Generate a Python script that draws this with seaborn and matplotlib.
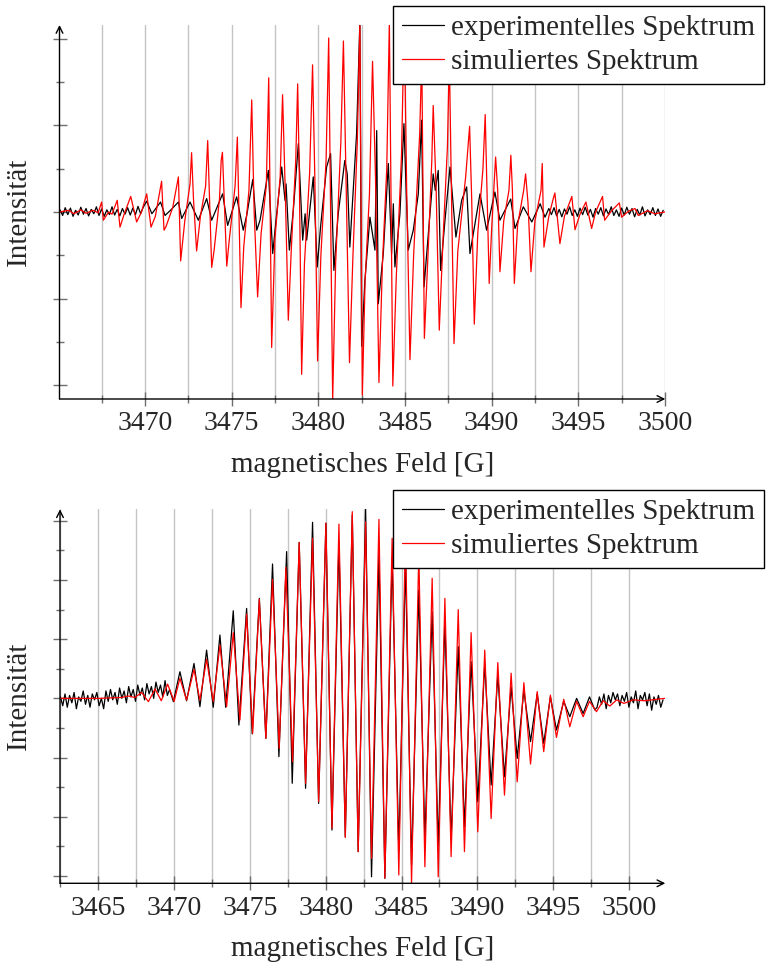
import numpy as np
import pandas as pd
import matplotlib
matplotlib.use("Agg")
import matplotlib.pyplot as plt
from matplotlib.lines import Line2D
import seaborn as sns

labels = ["experimentelles Spektrum", "simuliertes Spektrum"]

# ---------- top panel ----------
top_exp_noise_left_field = [3465.10, 3465.25, 3465.40, 3465.55, 3465.70, 3465.85, 3466.00, 3466.15, 3466.30,
                            3466.45, 3466.60, 3466.75, 3466.90, 3467.05, 3467.20, 3467.35, 3467.50, 3467.65,
                            3467.80, 3467.95, 3468.10, 3468.25, 3468.40, 3468.55, 3468.70, 3468.85, 3469.00,
                            3469.15, 3469.30, 3469.45, 3469.60, 3469.75, 3469.90]
top_exp_noise_left_val = [0.05, -0.08, 0.10, -0.06, 0.09, -0.10, 0.04, -0.07, 0.11, -0.05, 0.08, -0.09, 0.06,
                          -0.04, 0.12, -0.08, 0.07, -0.10, 0.05, -0.06, 0.12, -0.07, 0.06, -0.09, 0.08, -0.05,
                          0.10, -0.07, 0.09, -0.06, 0.13, -0.04, 0.11]

top_exp_lines = [(3470.10, 0.25), (3470.40, -0.04), (3470.90, 0.23), (3471.16, -0.08), (3471.50, 0.05),
                 (3471.93, 0.23), (3472.12, -0.15), (3472.60, 0.23), (3473.08, -0.19), (3473.56, 0.31),
                 (3473.85, -0.19), (3474.48, 0.42), (3474.77, -0.31), (3475.29, 0.35), (3475.67, -0.42),
                 (3475.87, -0.08), (3476.22, 0.75), (3476.45, -0.42), (3476.64, -0.19), (3477.12, 0.96),
                 (3477.37, -0.96), (3477.56, -0.19), (3477.89, 1.04), (3478.08, 0.27), (3478.14, 0.65),
                 (3478.33, -0.88), (3478.56, 0.04), (3478.85, 1.58), (3479.10, -0.65), (3479.24, -0.04),
                 (3479.33, -0.65), (3479.71, 0.81), (3479.94, -1.27), (3480.13, -0.35), (3480.48, 1.04),
                 (3480.71, 1.35), (3480.90, -1.35), (3481.15, -0.04), (3481.53, 1.19), (3481.67, 0.88),
                 (3481.82, -0.81), (3482.21, 1.81), (3482.40, 4.40), (3482.50, -3.10), (3482.69, -1.58),
                 (3482.98, -0.12), (3483.27, -0.88), (3483.37, 1.88), (3483.46, -2.12), (3483.75, -0.96),
                 (3484.04, 1.12), (3484.23, -0.96), (3484.33, 0.19), (3484.42, -1.27), (3484.71, -0.04),
                 (3484.94, 2.04), (3485.19, -0.88), (3485.48, -0.42), (3485.77, 0.42), (3485.96, 2.12),
                 (3486.10, -1.73), (3486.35, -0.50), (3486.63, 0.88), (3486.75, 0.50), (3486.92, 0.96),
                 (3487.06, -1.35), (3487.31, -0.19), (3487.60, 1.04), (3487.94, -0.58), (3488.27, 0.27),
                 (3488.56, 0.58), (3488.75, -0.96), (3489.33, 0.42), (3489.71, -0.42), (3490.19, 0.46),
                 (3490.48, -0.19), (3491.10, 0.30), (3491.35, -0.38), (3491.83, 0.12), (3492.32, -0.23),
                 (3492.80, 0.19), (3493.08, -0.12)]

top_exp_noise_right_field = [3493.30, 3493.45, 3493.60, 3493.75, 3493.90, 3494.05, 3494.20, 3494.35, 3494.50,
                             3494.65, 3494.80, 3494.95, 3495.10, 3495.25, 3495.40, 3495.55, 3495.70, 3495.85,
                             3496.00, 3496.15, 3496.30, 3496.45, 3496.60, 3496.75, 3496.90, 3497.05, 3497.20,
                             3497.35, 3497.50, 3497.65, 3497.80, 3497.95, 3498.10, 3498.25, 3498.40, 3498.55,
                             3498.70, 3498.85, 3499.00, 3499.15, 3499.30, 3499.45, 3499.60, 3499.75, 3499.90]
top_exp_noise_right_val = [0.08, -0.06, 0.10, -0.09, 0.06, -0.11, 0.07, -0.05, 0.12, -0.08, 0.05, -0.10, 0.09,
                           -0.06, 0.11, -0.07, 0.06, -0.12, 0.08, -0.05, 0.10, -0.09, 0.07, -0.06, 0.12, -0.08,
                           0.05, -0.10, 0.09, -0.07, 0.11, -0.05, 0.08, -0.11, 0.06, -0.07, 0.12, -0.09, 0.05,
                           -0.06, 0.10, -0.08, 0.07, -0.10, 0.04]

top_sim_lines = [(3465.07, 0.00), (3465.60, 0.04), (3465.90, -0.04), (3466.30, 0.05), (3466.60, -0.03),
                 (3467.00, 0.04), (3467.30, -0.02), (3467.50, 0.23), (3467.60, -0.19), (3467.90, 0.00),
                 (3468.10, -0.05), (3468.40, 0.27), (3468.56, -0.35), (3468.80, -0.05), (3469.18, 0.36),
                 (3469.52, -0.23), (3469.80, 0.00), (3470.10, 0.42), (3470.35, -0.35), (3470.60, -0.10),
                 (3470.96, 0.71), (3471.10, -0.42), (3471.20, -0.35), (3471.60, 0.10), (3471.93, 0.81),
                 (3472.06, -1.13), (3472.30, -0.20), (3472.60, 0.65), (3472.69, 1.37), (3472.80, 0.30),
                 (3472.98, -0.90), (3473.20, -0.10), (3473.50, 0.60), (3473.62, 1.65), (3473.85, -1.28),
                 (3474.00, -0.85), (3474.30, 0.30), (3474.40, 1.20), (3474.47, 1.38), (3474.72, -1.25),
                 (3474.85, -0.70), (3475.20, 0.60), (3475.33, 1.73), (3475.54, -2.21), (3475.70, -0.80),
                 (3476.00, 0.50), (3476.16, 2.59), (3476.30, 0.00), (3476.50, -1.96), (3476.70, -0.50),
                 (3477.00, 0.60), (3477.14, 3.10), (3477.31, -3.13), (3477.50, -0.60), (3477.80, 0.80),
                 (3477.94, 2.71), (3478.10, 0.40), (3478.27, -2.50), (3478.45, -0.80), (3478.70, 1.20),
                 (3478.81, 2.96), (3478.90, 1.00), (3479.04, -3.75), (3479.20, -1.20), (3479.50, 0.90),
                 (3479.67, 3.40), (3479.80, 0.80), (3479.96, -3.44), (3480.15, -1.00), (3480.45, 1.20),
                 (3480.60, 4.02), (3480.83, -4.35), (3481.00, -1.20), (3481.30, 1.60), (3481.45, 3.95),
                 (3481.60, 0.80), (3481.80, -3.48), (3482.00, -1.00), (3482.25, 1.60), (3482.40, 4.40),
                 (3482.54, -4.23), (3482.70, -1.60), (3482.95, 0.40), (3483.13, 3.48), (3483.30, 0.80),
                 (3483.50, -3.94), (3483.70, -1.20), (3483.95, 1.00), (3484.10, 4.40), (3484.30, -4.02),
                 (3484.50, -1.50), (3484.80, 1.30), (3484.96, 4.40), (3485.10, 0.50), (3485.29, -3.41),
                 (3485.50, -1.00), (3485.85, 1.80), (3485.97, 3.60), (3486.12, -2.92), (3486.35, -0.80),
                 (3486.55, 1.20), (3486.63, 2.46), (3486.80, 0.50), (3486.98, -2.73), (3487.20, -0.60),
                 (3487.45, 1.50), (3487.56, 3.60), (3487.70, 0.00), (3487.83, -3.04), (3488.05, -0.90),
                 (3488.50, 0.80), (3488.73, 1.98), (3488.85, 0.30), (3489.00, -2.59), (3489.20, -0.50),
                 (3489.50, 1.00), (3489.63, 2.25), (3489.75, 0.20), (3489.86, -1.65), (3490.00, -0.40),
                 (3490.15, 0.70), (3490.23, 1.27), (3490.35, 0.50), (3490.48, -1.38), (3490.70, -0.20),
                 (3491.00, 0.50), (3491.11, 1.31), (3491.20, 0.50), (3491.31, -1.65), (3491.50, -0.30),
                 (3491.85, 0.50), (3491.96, 0.88), (3492.10, 0.20), (3492.27, -1.38), (3492.50, -0.20),
                 (3492.85, 0.50), (3492.92, 1.12), (3493.02, -0.81), (3493.30, -0.10), (3493.55, 0.30),
                 (3493.65, 0.44), (3493.94, -0.73), (3494.20, -0.10), (3494.63, 0.36), (3494.81, -0.41),
                 (3495.10, -0.05), (3495.44, 0.23), (3495.77, -0.38), (3496.00, 0.00), (3496.40, 0.36),
                 (3496.52, -0.19), (3496.90, 0.02), (3497.37, 0.21), (3497.50, -0.12), (3497.90, 0.02),
                 (3498.27, 0.08), (3498.46, -0.08), (3499.00, 0.03), (3499.40, -0.04), (3500.00, 0.00)]

# ---------- bottom panel ----------
bot_exp_noise_left_field = [3462.50, 3462.65, 3462.80, 3462.95, 3463.10, 3463.25, 3463.40, 3463.55, 3463.70,
                            3463.85, 3464.00, 3464.15, 3464.30, 3464.45, 3464.60, 3464.75, 3464.90, 3465.05,
                            3465.20, 3465.35, 3465.50, 3465.65, 3465.80, 3465.95, 3466.10, 3466.25, 3466.40,
                            3466.55, 3466.70, 3466.85, 3467.00, 3467.15, 3467.30, 3467.45, 3467.60, 3467.75,
                            3467.90, 3468.05, 3468.20, 3468.35, 3468.50, 3468.65, 3468.80, 3468.95, 3469.10,
                            3469.25, 3469.40, 3469.55, 3469.70]
bot_exp_noise_left_val = [0.05, -0.25, 0.15, -0.30, 0.10, -0.15, 0.20, -0.35, 0.05, -0.10, 0.25, -0.20, 0.10,
                          -0.30, 0.15, -0.05, 0.20, -0.25, 0.00, -0.35, 0.25, -0.10, 0.30, -0.05, 0.20, -0.20,
                          0.35, 0.00, 0.25, -0.15, 0.40, 0.05, 0.30, -0.10, 0.45, 0.10, 0.35, -0.05, 0.50,
                          0.15, 0.40, 0.00, 0.55, 0.20, 0.45, 0.05, 0.60, 0.10, 0.30]

bot_exp_lines = [(3469.95, -0.11), (3470.38, 0.90), (3470.82, -0.08), (3471.31, 1.18), (3471.70, -0.28),
                 (3472.14, 1.63), (3472.58, -0.30), (3473.02, 2.14), (3473.40, -0.30), (3473.90, 2.96),
                 (3474.27, -0.90), (3474.78, 3.04), (3475.15, -1.20), (3475.62, 3.38), (3476.05, -1.35),
                 (3476.49, 4.54), (3476.91, -1.97), (3477.42, 4.96), (3477.79, -2.87), (3478.25, 5.27),
                 (3478.67, -3.04), (3479.13, 5.95), (3479.53, -3.55), (3480.01, 5.92), (3480.41, -4.45),
                 (3480.87, 5.30), (3481.29, -4.68), (3481.75, 6.20), (3482.14, -5.18), (3482.63, 6.42),
                 (3483.02, -6.03), (3483.51, 4.90), (3483.90, -6.08), (3484.38, 4.79), (3484.82, -5.15),
                 (3485.26, 4.60), (3485.66, -5.63), (3486.14, 3.66), (3486.54, -4.79), (3487.02, 2.93),
                 (3487.42, -5.01), (3487.86, 2.60), (3488.27, -4.79), (3488.74, 1.75), (3489.15, -4.34),
                 (3489.59, 1.24), (3490.03, -3.49), (3490.49, 1.18), (3490.91, -2.93), (3491.35, 0.79),
                 (3491.79, -2.65), (3492.23, 0.39), (3492.63, -2.03), (3493.07, 0.28), (3493.51, -1.46),
                 (3493.95, 0.15), (3494.38, -1.52), (3494.82, 0.05), (3495.22, -1.07), (3495.70, -0.10),
                 (3496.10, -0.62), (3496.55, 0.00), (3496.98, -0.51), (3497.40, 0.05), (3497.75, -0.39)]

bot_exp_noise_right_field = [3497.90, 3498.05, 3498.20, 3498.35, 3498.50, 3498.65, 3498.80, 3498.95, 3499.10,
                             3499.25, 3499.40, 3499.55, 3499.70, 3499.85, 3500.00, 3500.15, 3500.30, 3500.45,
                             3500.60, 3500.75, 3500.90, 3501.05, 3501.20, 3501.35, 3501.50, 3501.65, 3501.80,
                             3501.95, 3502.10, 3502.25]
bot_exp_noise_right_val = [-0.30, 0.05, -0.20, 0.15, -0.35, 0.10, -0.15, 0.20, -0.05, 0.15, -0.25, 0.10, -0.10,
                           0.20, -0.30, 0.05, -0.15, 0.25, -0.35, 0.10, -0.05, 0.20, -0.25, 0.15, -0.40, 0.05,
                           -0.20, 0.10, -0.30, -0.05]

bot_sim_lines = [(3462.47, 0.00), (3465.00, 0.00), (3466.50, 0.03), (3467.00, 0.08), (3467.40, 0.03),
                 (3467.86, 0.20), (3468.30, -0.11), (3468.74, 0.32), (3469.15, -0.08), (3469.57, 0.48),
                 (3470.00, -0.10), (3470.38, 0.68), (3470.82, -0.06), (3471.31, 0.98), (3471.70, -0.06),
                 (3472.14, 1.32), (3472.58, -0.11), (3473.02, 1.80), (3473.46, -0.28), (3473.90, 2.22),
                 (3474.34, -0.73), (3474.78, 2.85), (3475.18, -1.18), (3475.62, 3.35), (3476.05, -1.35),
                 (3476.49, 4.02), (3476.93, -1.69), (3477.37, 4.43), (3477.81, -2.14), (3478.25, 5.27),
                 (3478.67, -2.87), (3479.13, 5.41), (3479.53, -3.49), (3480.01, 5.92), (3480.41, -4.39),
                 (3480.87, 5.89), (3481.29, -4.70), (3481.75, 6.31), (3482.14, -5.18), (3482.63, 5.97),
                 (3483.02, -5.41), (3483.51, 6.05), (3483.90, -6.08), (3484.38, 5.41), (3484.82, -5.97),
                 (3485.26, 5.60), (3485.66, -6.25), (3486.14, 4.90), (3486.54, -5.69), (3487.02, 4.06),
                 (3487.42, -6.03), (3487.86, 3.38), (3488.27, -5.35), (3488.74, 3.00), (3489.15, -5.18),
                 (3489.59, 2.22), (3490.03, -4.51), (3490.49, 1.63), (3490.91, -4.06), (3491.35, 1.21),
                 (3491.79, -3.27), (3492.23, 0.85), (3492.63, -2.82), (3493.07, 0.53), (3493.51, -2.22),
                 (3493.95, 0.23), (3494.38, -1.80), (3494.82, 0.11), (3495.22, -1.32), (3495.70, -0.03),
                 (3496.10, -0.96), (3496.55, -0.10), (3496.98, -0.62), (3497.40, -0.10), (3497.86, -0.45),
                 (3498.30, -0.08), (3498.74, -0.26), (3499.20, -0.05), (3499.66, -0.17), (3500.30, -0.05),
                 (3501.00, -0.08), (3502.37, 0.00)]


def spectrum_frame(exp_field, exp_val, sim_lines):
    sim_field, sim_val = zip(*sim_lines)
    exp = pd.DataFrame({"field": exp_field, "intensity": exp_val, "series": labels[0]})
    sim = pd.DataFrame({"field": sim_field, "intensity": sim_val, "series": labels[1]})
    return pd.concat([exp, sim], ignore_index=True)


ef, ev = zip(*top_exp_lines)
top_df = spectrum_frame(top_exp_noise_left_field + list(ef) + top_exp_noise_right_field,
                        top_exp_noise_left_val + list(ev) + top_exp_noise_right_val, top_sim_lines)
ef, ev = zip(*bot_exp_lines)
bot_df = spectrum_frame(bot_exp_noise_left_field + list(ef) + bot_exp_noise_right_field,
                        bot_exp_noise_left_val + list(ev) + bot_exp_noise_right_val, bot_sim_lines)

sns.set_theme(style="white")
plt.rcParams['font.family'] = ['Liberation Serif', 'DejaVu Serif']

W, H = 771, 964
fig = plt.figure(figsize=(W / 100, H / 100), dpi=100)
ax_top = fig.add_axes([59.5 / W, 1 - 399 / H, (665.3 - 59.5) / W, (399 - 25) / H])
ax_bot = fig.add_axes([60 / W, 1 - 883.3 / H, (665.3 - 60) / W, (883.3 - 509.3) / H])

palette = {labels[0]: "black", labels[1]: "red"}


def style_panel(ax, df, xlim, ylim, majors, minors, legend_top):
    sns.lineplot(data=df, x="field", y="intensity", hue="series", palette=palette,
                 estimator=None, sort=False, lw=0.9, legend=False, ax=ax)
    ax.set_xlim(*xlim)
    ax.set_ylim(*ylim)
    ax.set_xticks(majors)
    ax.set_xticks(minors, minor=True)
    ax.set_xticklabels([str(m) for m in majors])
    ax.set_yticks([-4, -2, 0, 2, 4] if ylim[1] < 5 else [-6, -4, -2, 0, 2, 4, 6])
    ax.set_yticks([-3, -1, 1, 3] if ylim[1] < 5 else [-5, -3, -1, 1, 3, 5], minor=True)
    ax.set_yticklabels([])
    ax.grid(True, axis="x", which="both", color="#c4c4c4", lw=1)
    ax.grid(False, axis="y")
    ax.set_axisbelow(True)
    for s in ax.spines.values():
        s.set_visible(False)
    ax.tick_params(axis="both", which="major", direction="inout", length=10, width=1,
                   color="#6e6e6e", bottom=True, left=True, labelsize=20, pad=4)
    ax.tick_params(axis="both", which="minor", direction="inout", length=6, width=1,
                   color="#6e6e6e", bottom=True, left=True)
    ax.annotate("", xy=(1, 0), xytext=(0, 0), xycoords="axes fraction",
                arrowprops=dict(arrowstyle="->", lw=1, color="black", shrinkA=0, shrinkB=0))
    ax.annotate("", xy=(0, 1), xytext=(0, 0), xycoords="axes fraction",
                arrowprops=dict(arrowstyle="->", lw=1, color="black", shrinkA=0, shrinkB=0))
    ax.set_xlabel("magnetisches Feld [G]", fontsize=21, labelpad=11)
    ax.set_ylabel("Intensität", fontsize=21, labelpad=11)
    handles = [Line2D([], [], color="black", lw=0.9), Line2D([], [], color="red", lw=0.9)]
    leg = fig.legend(handles, labels, loc="upper left", bbox_to_anchor=(393 / W, 1 - legend_top / H),
                     frameon=True, fancybox=False, edgecolor="black", framealpha=1, fontsize=21,
                     handlelength=1.45, handletextpad=0.25, borderpad=0.3, labelspacing=0.25,
                     borderaxespad=0)
    leg.get_frame().set_linewidth(1)


style_panel(ax_top, top_df, (3465.07, 3500.02), (-4.32, 4.32),
            [3470, 3475, 3480, 3485, 3490, 3495, 3500],
            [3467.5, 3472.5, 3477.5, 3482.5, 3487.5, 3492.5, 3497.5], 6)
style_panel(ax_bot, bot_df, (3462.47, 3502.4), (-6.25, 6.39),
            [3465, 3470, 3475, 3480, 3485, 3490, 3495, 3500],
            [3462.5, 3467.5, 3472.5, 3477.5, 3482.5, 3487.5, 3492.5, 3497.5], 490)

fig.savefig("out.png", dpi=100)
